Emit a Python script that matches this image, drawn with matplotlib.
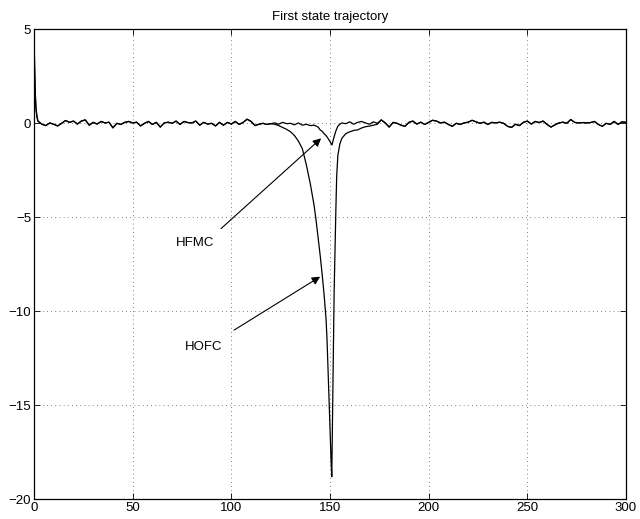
import numpy as np
import matplotlib
matplotlib.use("Agg")
import matplotlib.pyplot as plt

plt.rcParams['font.family'] = ['Liberation Sans', 'DejaVu Sans']

# initial transient, shared by both controllers
start_x = [0, 0.3, 0.6, 1.0, 1.5]
start_y = [5.0, 3.0, 1.7, 0.8, 0.35]

# common noise before the disturbance, x = 2, 4, ..., 120
left_x = list(range(2, 121, 2))
left_y = [0.12, -0.05, -0.12, 0.02, -0.05, -0.14, 0.00, 0.15, 0.05, 0.12,
          -0.04, 0.12, 0.18, -0.10, 0.05, -0.04, 0.10, 0.02, 0.06, -0.24,
          0.00, -0.06, 0.05, 0.10, 0.02, 0.06, -0.14, 0.00, 0.10, -0.06,
          0.05, -0.20, 0.02, 0.06, 0.00, 0.12, -0.06, 0.10, 0.04, 0.02,
          0.12, -0.10, 0.05, -0.04, 0.00, -0.14, 0.05, -0.10, 0.05, -0.04,
          0.10, -0.06, 0.05, 0.22, 0.10, -0.12, -0.05, 0.00, -0.06, -0.02]

# disturbance around t = 150
hfmc_dip_x = [122, 124, 126, 128, 130, 132, 134, 136, 138, 140, 142, 144, 145,
              146, 147, 148, 149, 150, 151, 152, 153, 154, 155, 156, 158, 160,
              162, 164, 166, 168, 170, 172, 174, 176]
hfmc_dip_y = [0.02, -0.05, 0.05, -0.02, 0.00, -0.08, 0.02, -0.10, -0.05, -0.12,
              -0.10, -0.20, -0.35, -0.42, -0.55, -0.65, -0.80, -0.98, -1.15, -0.75,
              -0.40, -0.15, -0.05, 0.02, -0.02, 0.08, -0.05, 0.05, 0.10, 0.02,
              -0.05, 0.08, 0.00, 0.18]

hofc_dip_x = [122, 124, 126, 128, 130, 132, 134, 136, 138, 140, 142, 143, 144,
              145, 146, 147, 148, 148.5, 149, 149.5, 150, 150.5, 150.9, 151.3,
              151.7, 152.1, 152.6, 153, 153.4, 154, 155, 156, 158, 160, 162, 164,
              166, 168, 170, 172, 174, 176]
hofc_dip_y = [-0.05, -0.12, -0.22, -0.32, -0.45, -0.65, -0.95, -1.35, -2.2, -3.2,
              -4.4, -5.2, -6.1, -7.0, -8.0, -9.1, -10.4, -11.5, -13.0, -14.6,
              -16.2, -17.8, -18.8, -15.5, -12.0, -9.0, -6.5, -4.5, -2.8, -1.7,
              -1.1, -0.8, -0.55, -0.45, -0.38, -0.35, -0.25, -0.18, -0.15, -0.10,
              -0.05, 0.18]

# common noise after the disturbance, x = 178, 180, ..., 300
right_x = list(range(178, 301, 2))
right_y = [0.02, -0.20, 0.05, 0.00, -0.10, -0.16, 0.05, 0.12, -0.04, 0.06,
           -0.06, 0.05, 0.16, 0.12, 0.02, 0.06, -0.06, -0.16, 0.00, -0.06,
           0.02, 0.06, 0.16, 0.08, 0.00, 0.06, -0.06, 0.05, 0.02, 0.06,
           0.00, -0.16, -0.22, -0.05, -0.12, 0.05, 0.12, -0.04, 0.10, 0.04,
           0.12, -0.06, -0.20, -0.08, 0.02, 0.06, 0.00, 0.20, 0.05, 0.02,
           0.04, 0.02, 0.04, 0.10, -0.06, -0.16, 0.00, -0.06, 0.10, -0.06,
           0.08, 0.05]

hfmc_x = start_x + left_x + hfmc_dip_x + right_x
hfmc_y = start_y + left_y + hfmc_dip_y + right_y
hofc_x = start_x + left_x + hofc_dip_x + right_x
hofc_y = start_y + left_y + hofc_dip_y + right_y

fig = plt.figure(figsize=(6.4, 5.19), dpi=100)
ax = fig.add_axes([0.0531, 0.038, 0.925, 0.9055])

ax.plot(hofc_x, hofc_y, color='k', lw=0.9)
ax.plot(hfmc_x, hfmc_y, color='k', lw=0.9)

ax.set_xlim(0, 300)
ax.set_ylim(-20, 5)
ax.set_xticks(range(0, 301, 50))
ax.set_yticks(range(-20, 6, 5))
ax.set_yticklabels(['\u221220', '\u221215', '\u221210', '\u22125', '0', '5'])
ax.grid(True, color='0.35', linestyle=(0, (1, 4)), lw=0.6)
ax.tick_params(direction='in', length=4, width=0.6, top=True, right=True,
               labelsize=9.5, pad=2)
for s in ax.spines.values():
    s.set_linewidth(0.9)

ax.set_title('First state trajectory', fontsize=9.5, pad=7)

arrow = dict(arrowstyle='-|>', color='k', lw=0.8, mutation_scale=12,
             shrinkA=0, shrinkB=0)
ax.annotate('', xy=(145.5, -0.8), xytext=(94.8, -5.6), arrowprops=arrow)
ax.annotate('', xy=(145, -8.16), xytext=(101.4, -11.0), arrowprops=arrow)
ax.text(81.4, -6.37, 'HFMC', fontsize=9.5, ha='center', va='center')
ax.text(86, -11.9, 'HOFC', fontsize=9.5, ha='center', va='center')

fig.savefig('out.png', dpi=100)
